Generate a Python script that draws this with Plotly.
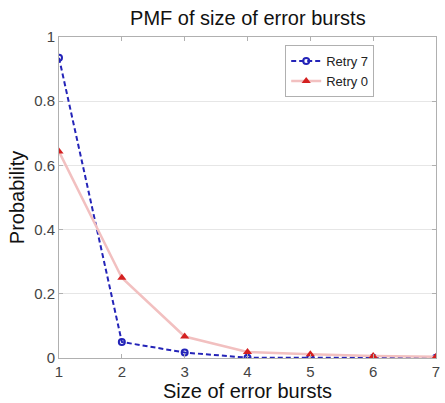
import plotly.graph_objects as go

burst_size = [1, 2, 3, 4, 5, 6, 7]
retry7 = [0.935, 0.05, 0.017, 0.001, 0.001, 0.0005, 0.0005]
retry0 = [0.643, 0.25, 0.067, 0.019, 0.012, 0.006, 0.004]
y_ticks = [0, 0.2, 0.4, 0.6, 0.8, 1]
y_tick_text = ["0", "0.2", "0.4", "0.6", "0.8", "1"]

FONT = "Liberation Sans, Arial"

fig = go.Figure()
fig.add_trace(go.Scatter(
    x=burst_size, y=retry7, name="Retry 7", mode="lines+markers",
    line=dict(color="#2424b8", width=2, dash="5px,3px"),
    marker=dict(symbol="circle-open", size=6, color="#2424b8", line=dict(width=2)),
))
fig.add_trace(go.Scatter(
    x=burst_size, y=retry0, name="Retry 0", mode="lines+markers",
    line=dict(color="#f2c0c0", width=2.5),
    marker=dict(symbol="triangle-up", size=8, color="#d42020"),
))

axis_common = dict(
    showline=True, linecolor="#b0b0b0", linewidth=1, mirror="ticks",
    ticks="inside", ticklen=4, tickcolor="#b0b0b0",
    tickfont=dict(family=FONT, size=15, color="#444444"),
    zeroline=False,
)

fig.update_layout(
    width=445, height=403,
    margin=dict(l=59, r=5, t=37, b=45),
    paper_bgcolor="white", plot_bgcolor="white",
    title=dict(text="PMF of size of error bursts", x=0.557, xanchor="center",
               y=0.955, yanchor="middle",
               font=dict(family=FONT, size=20, color="#111111")),
    xaxis=dict(range=[1, 7], tickvals=burst_size, showgrid=False,
               title=dict(text="Size of error bursts", standoff=0,
                          font=dict(family=FONT, size=20, color="#111111")),
               **axis_common),
    yaxis=dict(range=[0, 1], tickvals=y_ticks, ticktext=y_tick_text,
               showgrid=True, gridcolor="#e6e6e6", gridwidth=1,
               title=dict(text="Probability", standoff=4,
                          font=dict(family=FONT, size=20, color="#111111")),
               **axis_common),
    legend=dict(x=0.6, y=0.975, xanchor="left", yanchor="top",
                bgcolor="white", bordercolor="#b0b0b0", borderwidth=1,
                font=dict(family=FONT, size=13, color="#222222"),
                tracegroupgap=0, itemwidth=30),
    showlegend=True,
)

fig.write_html("out.html")
